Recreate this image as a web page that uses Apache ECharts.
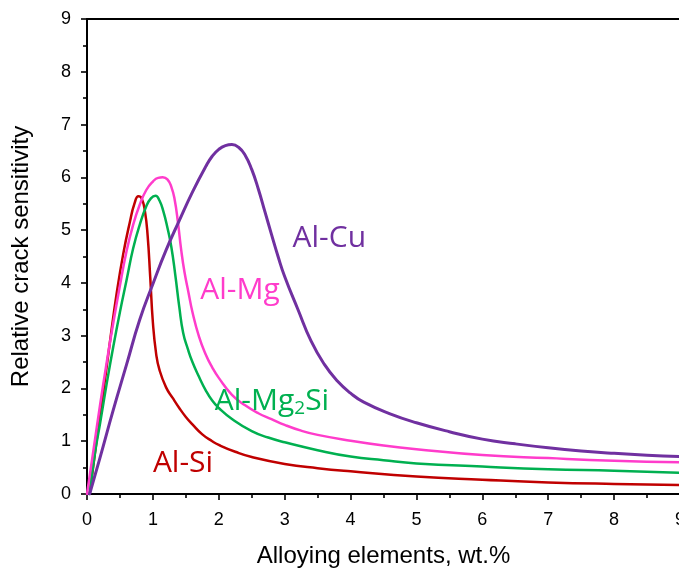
<!DOCTYPE html>
<html>
<head>
<meta charset="utf-8">
<script src="https://cdn.jsdelivr.net/npm/echarts@6/dist/echarts.min.js"></script>
<style>
html,body{margin:0;padding:0;background:#fff;}
#chart{width:679px;height:572px;}
</style>
</head>
<body>
<div id="chart"></div>
<script>
// ---- data ----
var xTicks = [0,1,2,3,4,5,6,7,8,9];
var yTicks = [0,1,2,3,4,5,6,7,8,9];

var alSi = [[0.04,0],[0.15,1.05],[0.25,1.95],[0.35,2.9],[0.45,3.8],[0.55,4.55],[0.65,5.15],[0.72,5.5],[0.78,5.64],[0.83,5.6],[0.88,5.35],[0.92,4.9],[0.96,4.1],[1.0,3.25],[1.05,2.65],[1.1,2.35],[1.2,2.02],[1.3,1.82],[1.4,1.63],[1.5,1.46],[1.6,1.32],[1.75,1.13],[1.9,1.0],[2.0,0.93],[2.25,0.8],[2.5,0.7],[3,0.57],[3.5,0.49],[4,0.43],[5,0.33],[6,0.27],[7,0.22],[8,0.19],[9,0.17]];

var alMg2Si = [[0.04,0],[0.12,0.77],[0.2,1.35],[0.3,2.1],[0.4,2.8],[0.5,3.45],[0.6,4.05],[0.7,4.65],[0.8,5.1],[0.9,5.45],[0.97,5.6],[1.04,5.65],[1.1,5.56],[1.16,5.35],[1.22,5.05],[1.28,4.68],[1.34,4.15],[1.4,3.55],[1.46,3.05],[1.53,2.75],[1.6,2.5],[1.7,2.22],[1.8,1.97],[1.9,1.77],[2.0,1.63],[2.2,1.42],[2.5,1.19],[2.75,1.07],[3.0,0.98],[3.5,0.83],[4,0.71],[4.5,0.64],[5,0.58],[6,0.52],[7,0.47],[8,0.44],[9,0.4]];

var alMg = [[0,0],[0.1,0.85],[0.2,1.7],[0.3,2.5],[0.4,3.25],[0.5,3.95],[0.6,4.6],[0.7,5.1],[0.8,5.48],[0.9,5.76],[1.0,5.92],[1.08,5.99],[1.15,6.0],[1.22,5.96],[1.28,5.82],[1.33,5.58],[1.38,5.15],[1.43,4.62],[1.48,4.2],[1.54,3.82],[1.6,3.45],[1.7,2.98],[1.8,2.65],[1.9,2.4],[2.0,2.2],[2.2,1.88],[2.4,1.68],[2.6,1.53],[2.8,1.42],[3.0,1.31],[3.25,1.2],[3.5,1.12],[4,1.01],[4.5,0.92],[5,0.85],[6,0.74],[7,0.68],[8,0.63],[9,0.6]];

var alCu = [[0.04,0],[0.2,0.7],[0.4,1.6],[0.6,2.45],[0.8,3.3],[1.0,3.98],[1.2,4.62],[1.4,5.18],[1.6,5.72],[1.8,6.2],[1.9,6.4],[2.0,6.53],[2.1,6.6],[2.2,6.62],[2.3,6.57],[2.4,6.42],[2.5,6.15],[2.6,5.78],[2.7,5.35],[2.8,4.92],[2.9,4.5],[3.0,4.12],[3.2,3.5],[3.4,2.9],[3.6,2.46],[3.8,2.14],[4.0,1.91],[4.2,1.74],[4.6,1.52],[5,1.35],[5.5,1.18],[6,1.04],[6.5,0.95],[7,0.875],[7.5,0.815],[8,0.77],[8.5,0.735],[9,0.71]];

// series labels: [text, x, y(cap-middle)]
var labelNames = ['Al-Cu','Al-Mg','Al-Mg2Si','Al-Si'];
var labelPos = [[3.12,4.84],[1.72,3.85],[1.94,1.76],[1.0,0.575]];
var colors = ['#7030A0','#FF3CCB','#00B050','#C00000'];

var chart = echarts.init(document.getElementById('chart'), null, {renderer:'canvas'});
var axisFont = 'Liberation Sans, Arial, sans-serif';
function baseAxis(){
  return {
    type:'value', min:0, max:9, interval:1,
    axisLine:{show:true, onZero:false, lineStyle:{color:'#000', width:2}},
    axisTick:{show:true, inside:false, length:6, lineStyle:{color:'#000', width:1.6}},
    minorTick:{show:true, splitNumber:2, length:4, lineStyle:{color:'#000', width:1.6}},
    splitLine:{show:false},
    minorSplitLine:{show:false}
  };
}
var xA = baseAxis();
xA.axisLabel = {fontSize:18, color:'#000', margin:17, fontFamily:axisFont,
  formatter:function(v){return xTicks.indexOf(v)>=0 ? String(v) : '';}};
xA.name = 'Alloying elements, wt.%';
xA.nameLocation = 'middle';
xA.nameGap = 50;
xA.nameTextStyle = {fontSize:24, color:'#000', fontFamily:axisFont};

var yA = baseAxis();
yA.axisLabel = {fontSize:18, color:'#000', margin:16, fontFamily:axisFont,
  formatter:function(v){return yTicks.indexOf(v)>=0 ? String(v) : '';}};
yA.name = 'Relative crack sensitivity';
yA.nameLocation = 'middle';
yA.nameGap = 54;
yA.nameTextStyle = {fontSize:24, color:'#000', fontFamily:axisFont};

var xTop = {type:'value', position:'top', min:0, max:9,
  axisLine:{show:true, onZero:false, lineStyle:{color:'#000', width:2}},
  axisTick:{show:false}, axisLabel:{show:false}, splitLine:{show:false}};

function lineSeries(name, data, color, w){
  return {name:name, type:'line', data:data, xAxisIndex:0, yAxisIndex:0,
    smooth:0.5, showSymbol:false, symbol:'none',
    lineStyle:{color:color, width:w, join:'round', cap:'round'}, z:3, animation:false};
}

chart.setOption({
  animation:false,
  grid:{left:87, top:19, width:593, height:475, containLabel:false, outerBoundsMode:'none'},
  xAxis:[xA, xTop],
  yAxis:[yA],
  series:[
    lineSeries('Al-Si', alSi, colors[3], 2.5),
    lineSeries('Al-Mg2Si', alMg2Si, colors[2], 2.5),
    lineSeries('Al-Mg', alMg, colors[1], 2.5),
    lineSeries('Al-Cu', alCu, colors[0], 3)
  ]
});

var labelFont = '"Open Sans", sans-serif';
var gfx = [];
for (var i=0;i<labelNames.length;i++){
  var p = chart.convertToPixel({xAxisIndex:0, yAxisIndex:0}, labelPos[i]);
  var txt = labelNames[i];
  var style = {x:p[0], y:p[1], fill:colors[i],
    fontSize:30, fontFamily:labelFont, align:'left', verticalAlign:'middle'};
  if (txt === 'Al-Mg2Si'){
    style.text = '{a|Al-Mg}{s|2}{a|Si}';
    style.rich = {
      a:{fontSize:30, fontFamily:labelFont, fill:colors[i], lineHeight:34, verticalAlign:'middle'},
      s:{fontSize:19, fontFamily:labelFont, fill:colors[i], lineHeight:14, verticalAlign:'bottom'}
    };
  } else {
    style.text = txt;
  }
  gfx.push({type:'text', style:style, z:10});
}
chart.setOption({graphic:gfx});
</script>
</body>
</html>
